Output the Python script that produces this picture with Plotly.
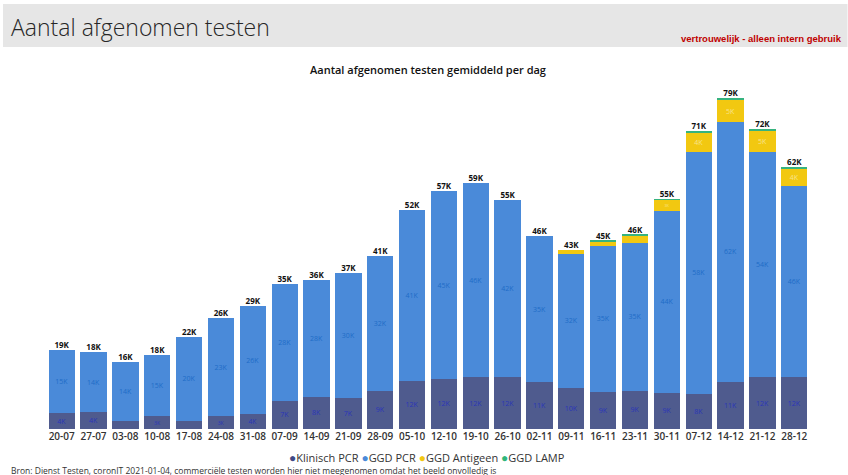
import plotly.graph_objects as go

weeks = ["20-07", "27-07", "03-08", "10-08", "17-08", "24-08", "31-08", "07-09", "14-09",
         "21-09", "28-09", "05-10", "12-10", "19-10", "26-10", "02-11", "09-11", "16-11",
         "23-11", "30-11", "07-12", "14-12", "21-12", "28-12"]
klinisch_pcr = [3.8, 4.0, 2.0, 3.0, 2.0, 3.0, 3.5, 6.7, 7.7, 7.4, 9.1, 11.5, 12.0, 12.3,
                12.3, 11.1, 9.8, 8.9, 9.1, 8.6, 8.4, 11.3, 12.4, 12.3]
ggd_pcr = [15.1, 14.4, 14.0, 14.6, 20.0, 23.4, 25.9, 27.9, 27.9, 29.8, 32.2, 40.7, 44.7,
           46.4, 42.4, 34.9, 32.0, 34.8, 35.3, 43.5, 57.8, 62.0, 53.7, 45.7]
ggd_antigeen = [0, 0, 0, 0, 0, 0, 0, 0, 0, 0, 0, 0, 0, 0, 0, 0, 1.0, 1.1, 1.9, 2.6, 4.5,
                5.2, 5.1, 4.0]
ggd_lamp = [0, 0, 0, 0, 0, 0, 0, 0, 0, 0, 0, 0, 0, 0, 0, 0, 0, 0.1, 0.1, 0.1, 0.4, 0.5,
            0.5, 0.5]

series_names = ["Klinisch PCR", "GGD PCR", "GGD Antigeen", "GGD LAMP"]
series_values = [klinisch_pcr, ggd_pcr, ggd_antigeen, ggd_lamp]
series_colors = ["#4f5b8e", "#4a8ad9", "#f2c811", "#36b37e"]
label_colors = ["#2a35b8", "#1f6cc7", "#f8e48c", "#36b37e"]
legend_dot_colors = ["#3f4a86", "#4a8ad9", "#f2c811", "#2fb77a"]

# plot area in pixels
W, H = 848, 475
L, R, T, B = 21, 12.5, 80, 46
PW, PH = W - L - R, H - T - B


def px(x):
    return (x - L) / PW


def py(y):
    return (H - B - y) / PH


fig = go.Figure()
for name, vals, col, lcol in zip(series_names, series_values, series_colors, label_colors):
    texts = [f"{round(v)}K" if v >= 2.5 else "" for v in vals]
    fig.add_trace(go.Bar(
        x=weeks, y=vals, name=name, marker=dict(color=col, line=dict(width=0)),
        text=texts, textposition="inside", insidetextanchor="middle", textangle=0,
        textfont=dict(size=7, color=lcol, family="Open Sans"),
        showlegend=False, hoverinfo="x+y+name",
    ))

totals = [sum(v) for v in zip(*series_values)]
fig.add_trace(go.Scatter(
    x=weeks, y=totals, mode="text", text=[f"{round(t)}K" for t in totals],
    textposition="top center",
    textfont=dict(size=8, color="#111111", family="Open Sans", weight=700),
    showlegend=False, hoverinfo="skip",
))

shapes = [dict(type="rect", xref="paper", yref="paper", x0=px(3), x1=px(848),
               y0=py(47), y1=py(4), fillcolor="#e6e6e6", line=dict(width=0), layer="below")]

legend_text = "".join(
    f"<span style='color:{c};font-size:12px'>●</span>{n} "
    for n, c in zip(series_names, legend_dot_colors)
).strip()

annotations = [
    dict(text="Aantal afgenomen testen", x=px(9), y=py(27), xref="paper", yref="paper",
         xanchor="left", yanchor="middle", showarrow=False,
         font=dict(size=23, color="#262626", family="Open Sans", weight=300)),
    dict(text="vertrouwelijk - alleen intern gebruik", x=px(845), y=py(38), xref="paper",
         yref="paper", xanchor="right", yanchor="middle", showarrow=False,
         font=dict(size=9.5, color="#c00000", family="Liberation Sans", weight=700)),
    dict(text="Aantal afgenomen testen gemiddeld per dag", x=px(428), y=py(69),
         xref="paper", yref="paper", xanchor="center", yanchor="middle", showarrow=False,
         font=dict(size=11, color="#111111", family="Open Sans", weight=600)),
    dict(text=legend_text, x=px(427), y=py(457.5), xref="paper", yref="paper",
         xanchor="center", yanchor="middle", showarrow=False,
         font=dict(size=11, color="#333333", family="Open Sans", weight=500)),
    dict(text="Bron: Dienst Testen, coronIT 2021-01-04, commerciële testen worden hier niet meegenomen omdat het beeld onvolledig is",
         x=px(9), y=py(470), xref="paper", yref="paper", xanchor="left", yanchor="middle",
         showarrow=False, font=dict(size=8.5, color="#333333", family="Open Sans")),
]

fig.update_layout(
    width=W, height=H, margin=dict(l=L, r=R, t=T, b=B),
    barmode="stack", bargap=0.174,
    paper_bgcolor="white", plot_bgcolor="white",
    shapes=shapes, annotations=annotations,
    xaxis=dict(type="category", showgrid=False, showline=False, ticks="",
               tickfont=dict(size=10, color="#333333", family="Open Sans", weight=600),
               ticklabelstandoff=0),
    yaxis=dict(range=[0, 83.3], visible=False, showgrid=False, zeroline=False),
    font=dict(family="Open Sans"),
)

fig.write_html("out.html", config={"displayModeBar": False},
               post_script="document.body.style.margin='0';document.body.style.overflow='hidden';")
